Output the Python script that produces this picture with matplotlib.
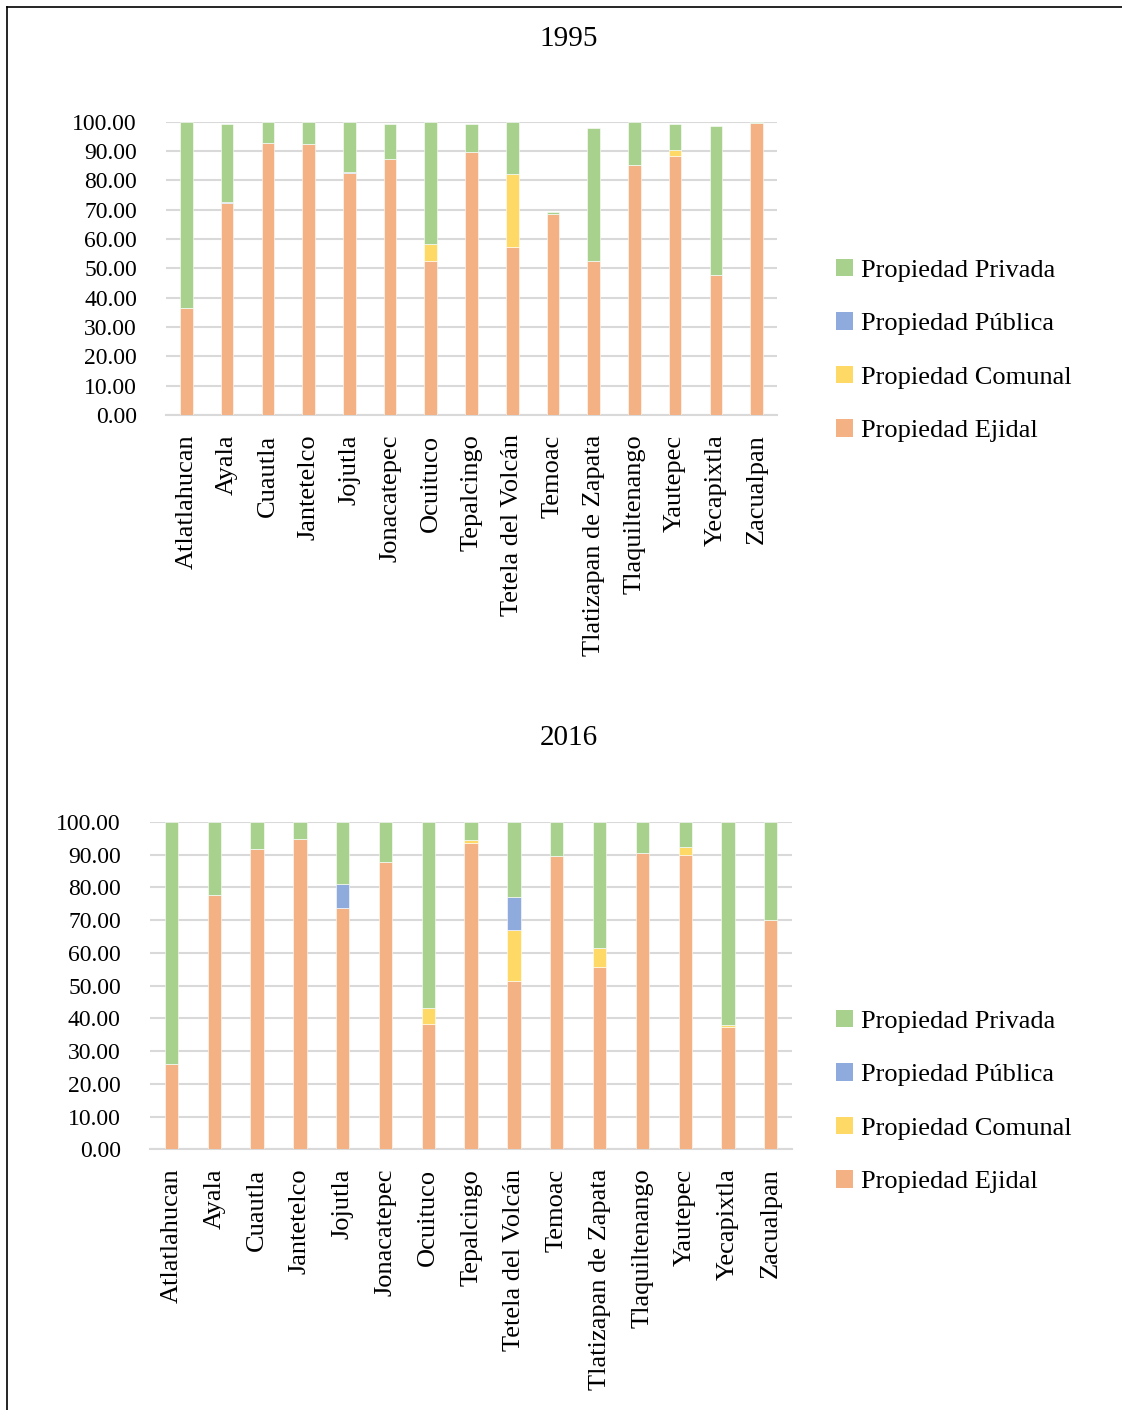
import matplotlib.pyplot as plt
from matplotlib.lines import Line2D
from matplotlib.patches import Patch
import numpy as np

plt.rcParams['font.family'] = ['Liberation Serif', 'DejaVu Serif']

municipios = ["Atlatlahucan", "Ayala", "Cuautla", "Jantetelco", "Jojutla", "Jonacatepec",
              "Ocuituco", "Tepalcingo", "Tetela del Volcán", "Temoac", "Tlatizapan de Zapata",
              "Tlaquiltenango", "Yautepec", "Yecapixtla", "Zacualpan"]

# 1995 (%)
ejidal_1995 = [36.4, 72.3, 92.8, 92.3, 82.5, 87.3, 52.6, 89.8, 57.4, 68.6, 52.6, 85.1, 88.4, 47.6, 99.5]
comunal_1995 = [0.0, 0.0, 0.0, 0.0, 0.0, 0.0, 5.7, 0.0, 24.9, 0.0, 0.0, 0.0, 1.9, 0.0, 0.0]
publica_1995 = [0.0, 0.4, 0.0, 0.0, 0.5, 0.0, 0.0, 0.0, 0.0, 0.0, 0.0, 0.0, 0.0, 0.0, 0.0]
privada_1995 = [63.6, 26.6, 7.2, 7.7, 17.0, 12.0, 41.7, 9.3, 17.7, 0.6, 45.3, 14.9, 8.9, 50.9, 0.5]

# 2016 (%)
ejidal_2016 = [25.9, 77.6, 91.6, 94.7, 73.7, 87.6, 38.3, 93.6, 51.4, 89.4, 55.7, 90.5, 89.9, 37.4, 69.9]
comunal_2016 = [0.0, 0.0, 0.0, 0.0, 0.0, 0.0, 4.9, 0.9, 15.5, 0.0, 5.9, 0.0, 2.3, 0.5, 0.0]
publica_2016 = [0.0, 0.0, 0.0, 0.0, 7.3, 0.0, 0.0, 0.0, 10.1, 0.0, 0.0, 0.0, 0.0, 0.0, 0.0]
privada_2016 = [74.1, 22.4, 8.4, 5.3, 19.0, 12.4, 56.8, 5.5, 23.0, 10.6, 38.4, 9.5, 7.8, 62.1, 30.1]

series_names = ["Propiedad Ejidal", "Propiedad Comunal", "Propiedad Pública", "Propiedad Privada"]
colors = ["#f4b183", "#ffd966", "#8faadc", "#a9d18e"]

fig = plt.figure(figsize=(11.22, 14.1), dpi=100)

panels = [
    ("1995", [ejidal_1995, comunal_1995, publica_1995, privada_1995],
     [0.148, 0.7057, 0.5445, 0.208], 0.9725, 0.7515),
    ("2016", [ejidal_2016, comunal_2016, publica_2016, privada_2016],
     [0.1337, 0.1849, 0.5724, 0.2323], 0.4765, 0.2188),
]

for title, data, rect, title_y, leg_y in panels:
    ax = fig.add_axes(rect)
    x = np.arange(len(municipios))
    bottom = np.zeros(len(municipios))
    for vals, name, col in zip(data, series_names, colors):
        vals = np.array(vals)
        ax.bar(x, vals, 0.31, bottom=bottom, color=col, label=name,
               edgecolor='white', linewidth=0.4, zorder=3)
        bottom += vals
    ax.set_xlim(-0.5, len(municipios) - 0.5)
    ax.set_ylim(0, 100)
    ax.set_yticks(np.arange(0, 101, 10))
    ax.set_yticklabels([f"{v:.2f}" for v in np.arange(0, 101, 10)])
    ax.set_xticks(x)
    ax.set_xticklabels(municipios, rotation=90)
    ax.grid(axis='y', color='#d9d9d9', linewidth=1.5, zorder=0)
    for s in ['top', 'right', 'left']:
        ax.spines[s].set_visible(False)
    ax.spines['bottom'].set_color('#d9d9d9')
    ax.spines['bottom'].set_linewidth(1.5)
    ax.tick_params(axis='both', length=0)
    ax.tick_params(axis='y', pad=21, labelsize=17)
    ax.tick_params(axis='x', pad=14, labelsize=19)
    fig.text(0.507, title_y, title, ha='center', va='center', fontsize=21)

    handles = [Patch(facecolor=c) for c in colors][::-1]
    fig.legend(handles, series_names[::-1], loc='center left',
               bbox_to_anchor=(0.745, leg_y), frameon=False, fontsize=19,
               borderpad=0, borderaxespad=0,
               labelspacing=1.15, handlelength=0.65, handleheight=0.65,
               handletextpad=0.3)

# page border (top and left)
fig.add_artist(Line2D([7 / 1122, 1], [1 - 7 / 1410, 1 - 7 / 1410], color='black', linewidth=1.2))
fig.add_artist(Line2D([7 / 1122, 7 / 1122], [0, 1 - 7 / 1410], color='black', linewidth=1.2))

fig.savefig('out.png', dpi=100)
